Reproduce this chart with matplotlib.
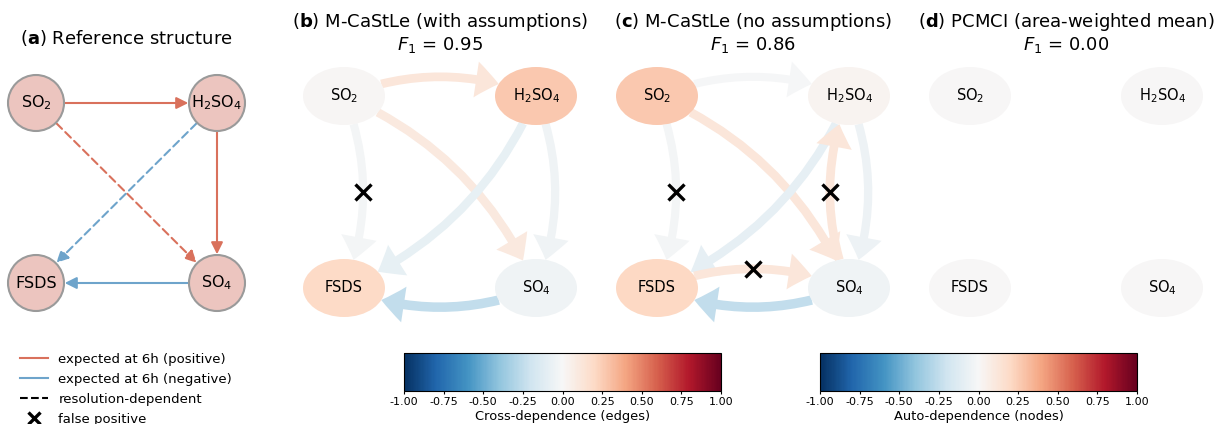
import matplotlib.pyplot as plt
import numpy as np
from matplotlib.patches import Ellipse, FancyArrowPatch, ArrowStyle
from matplotlib.lines import Line2D
from matplotlib.colors import Normalize
from matplotlib.cm import ScalarMappable

# --- Variables and node grid ---
variables = ['SO2', 'H2SO4', 'FSDS', 'SO4']
node_labels = [r'SO$_2$', r'H$_2$SO$_4$', 'FSDS', r'SO$_4$']
grid_pos = [(0, 1), (1, 1), (0, 0), (1, 0)]

# (a) reference structure: expected links, sign and resolution dependence
ref_src = ['SO2', 'H2SO4', 'SO2', 'H2SO4', 'SO4']
ref_dst = ['H2SO4', 'SO4', 'SO4', 'FSDS', 'FSDS']
ref_sign = [1, 1, 1, -1, -1]
ref_dashed = [False, False, True, True, False]

# (b) M-CaStLe (with assumptions)
b_node_vals = [0.01, 0.27, 0.20, -0.04]
b_src = ['SO2', 'SO2', 'SO2', 'H2SO4', 'H2SO4', 'SO4']
b_dst = ['H2SO4', 'FSDS', 'SO4', 'FSDS', 'SO4', 'FSDS']
b_vals = [0.12, -0.02, 0.10, -0.08, -0.04, -0.25]
b_false = [False, True, False, False, False, False]
b_f1 = 0.95

# (c) M-CaStLe (no assumptions)
c_node_vals = [0.27, 0.03, 0.21, -0.04]
c_src = ['SO2', 'SO2', 'SO2', 'H2SO4', 'H2SO4', 'SO4', 'FSDS', 'SO4']
c_dst = ['H2SO4', 'FSDS', 'SO4', 'FSDS', 'SO4', 'H2SO4', 'SO4', 'FSDS']
c_vals = [-0.01, -0.02, 0.12, -0.09, -0.05, 0.12, 0.12, -0.25]
c_false = [False, True, False, False, False, True, True, False]
c_f1 = 0.86

# (d) PCMCI on the area-weighted mean: no links found
d_node_vals = [0.0, 0.0, 0.0, 0.0]
d_src, d_dst, d_vals, d_false = [], [], [], []
d_f1 = 0.00

W, H = 1219, 424
fig = plt.figure(figsize=(W / 100, H / 100), dpi=100)
cmap = plt.get_cmap('RdBu_r')
norm = Normalize(-1, 1)
RAD = -0.2
POS_RED = '#d9715c'
NEG_BLUE = '#6ea4cb'
PXU = 10 * fig.dpi / 72  # pixels per arrow mutation unit


def add_panel(left, top, sx, sy, m=0.4):
    # node grid: x=0 at `left`, x=1 at left+sx; y=1 at `top`, y=0 at top+sy (pixels)
    x0, x1 = left - m * sx, left + (1 + m) * sx
    y0, y1 = top - m * sy, top + (1 + m) * sy
    ax = fig.add_axes([x0 / W, 1 - y1 / H, (x1 - x0) / W, (y1 - y0) / H])
    ax.set_xlim(-m, 1 + m)
    ax.set_ylim(-m, 1 + m)
    ax.set_axis_off()
    return ax


# --- (a) Reference structure ---
ax = add_panel(36, 103, 181, 180)
pos = dict(zip(variables, grid_pos))
nodes = {}
for name, lab, (x, y) in zip(variables, node_labels, grid_pos):
    e = Ellipse((x, y), 56 / 181, 56 / 180, fc='#ecc5bf', ec='#9a9a9a', lw=1.5, zorder=2)
    ax.add_patch(e)
    nodes[name] = e
    ax.text(x, y, lab, ha='center', va='center', fontsize=11.5, zorder=3)
for s, d, sg, dash in zip(ref_src, ref_dst, ref_sign, ref_dashed):
    arr = FancyArrowPatch(pos[s], pos[d], patchA=nodes[s], patchB=nodes[d],
                          arrowstyle=ArrowStyle('-|>', head_length=0.5, head_width=0.25),
                          mutation_scale=14, color=POS_RED if sg > 0 else NEG_BLUE, lw=1.5,
                          linestyle=(0, (3.8, 2.2)) if dash else '-',
                          shrinkA=0, shrinkB=0, zorder=1)
    ax.add_patch(arr)
fig.text(126 / W, 1 - 38 / H, r'($\mathbf{a}$) Reference structure',
         ha='center', va='center', fontsize=13)


# --- (b)-(d) Discovered graphs ---
def draw_graph(ax, node_vals, src, dst, vals, false_pos):
    nodes = {}
    for name, lab, (x, y), v in zip(variables, node_labels, grid_pos, node_vals):
        e = Ellipse((x, y), 82 / 192, 58 / 192, fc=cmap(norm(v)), ec='none', zorder=2)
        ax.add_patch(e)
        nodes[name] = e
        ax.text(x, y, lab, ha='center', va='center', fontsize=10.5, zorder=3)
    for s, d, v, fp in zip(src, dst, vals, false_pos):
        p0, p1 = pos[s], pos[d]
        style = ArrowStyle('simple', head_length=23 / PXU, head_width=36 / PXU,
                           tail_width=(8 + 6 * abs(v)) / PXU)
        arr = FancyArrowPatch(p0, p1, patchA=nodes[s], patchB=nodes[d],
                              connectionstyle=f'arc3,rad={RAD}', arrowstyle=style,
                              mutation_scale=10, fc=cmap(norm(v)), ec='none', lw=0,
                              shrinkA=0, shrinkB=0, zorder=1)
        ax.add_patch(arr)
        if fp:
            # midpoint of the arc3 curve
            mx = (p0[0] + p1[0]) / 2 + 0.5 * RAD * (p1[1] - p0[1])
            my = (p0[1] + p1[1]) / 2 - 0.5 * RAD * (p1[0] - p0[0])
            ax.plot(mx, my, marker='x', ms=12, mew=2.4, color='k', zorder=4)


panels = [
    (344, 'b', 'M-CaStLe (with assumptions)', b_f1, b_node_vals, b_src, b_dst, b_vals, b_false),
    (657, 'c', 'M-CaStLe (no assumptions)', c_f1, c_node_vals, c_src, c_dst, c_vals, c_false),
    (970, 'd', 'PCMCI (area-weighted mean)', d_f1, d_node_vals, d_src, d_dst, d_vals, d_false),
]
for left, letter, name, f1, nv, src, dst, vals, fp in panels:
    ax = add_panel(left, 96, 192, 192)
    draw_graph(ax, nv, src, dst, vals, fp)
    cx = left + 96
    fig.text(cx / W, 1 - 22 / H, rf'($\mathbf{{{letter}}}$) {name}',
             ha='center', va='center', fontsize=13)
    fig.text(cx / W, 1 - 45 / H, rf'$F_1$ = {f1:.2f}',
             ha='center', va='center', fontsize=13)

# --- Legend ---
handles = [
    Line2D([], [], color=POS_RED, lw=1.5),
    Line2D([], [], color=NEG_BLUE, lw=1.5),
    Line2D([], [], color='k', lw=1.5, ls='--'),
    Line2D([], [], color='k', marker='x', ls='none', ms=8, mew=2.4),
]
leg_labels = ['expected at 6h (positive)', 'expected at 6h (negative)',
              'resolution-dependent', 'false positive']
fig.legend(handles, leg_labels, loc='upper left', bbox_to_anchor=(20 / W, 1 - 353 / H),
           frameon=False, fontsize=9.5, handlelength=2.1, handletextpad=0.8,
           labelspacing=0.52, borderpad=0, borderaxespad=0)

# --- Colorbars ---
for left, label in [(404, 'Cross-dependence (edges)'), (820, 'Auto-dependence (nodes)')]:
    cax = fig.add_axes([left / W, 1 - 391 / H, 317 / W, 38 / H])
    cb = fig.colorbar(ScalarMappable(norm=norm, cmap=cmap), cax=cax, orientation='horizontal',
                      ticks=np.arange(-1, 1.01, 0.25), format='%.2f')
    cb.ax.tick_params(labelsize=8, length=2.5, pad=1.5)
    cb.set_label(label, fontsize=9.4, labelpad=2.5)

fig.savefig('out.png', dpi=100)
